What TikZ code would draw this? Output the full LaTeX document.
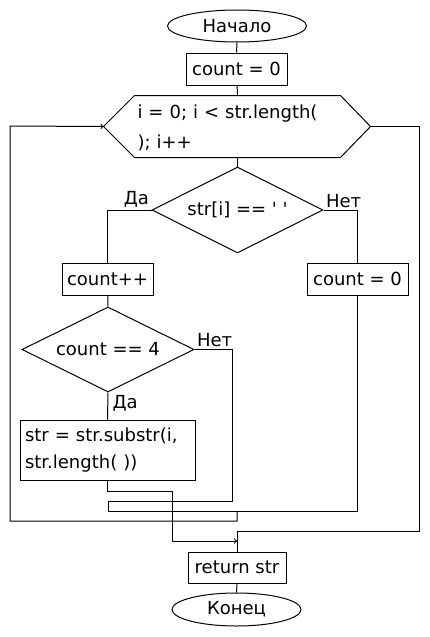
\documentclass[tikz,border=0pt]{standalone}
\usepackage{fontspec}
\setmainfont{DejaVu Sans}
\usepackage{tikz}
\usetikzlibrary{arrows,backgrounds,calc,positioning,shapes.geometric}

\tikzset{
  txt/.style={font=\fontsize{18}{22}\selectfont, inner sep=0pt},
  blok/.style={txt, draw, rectangle, minimum height=32pt},
  term/.style={txt, draw, ellipse, minimum height=32pt},
  uslovie/.style={txt, draw, diamond, aspect=2},
  metka/.style={txt, inner sep=2pt},
  liniya/.style={draw, line width=1pt}
}

\begin{document}
\begin{tikzpicture}[x=1pt, y=-1pt, line width=1pt, >=to]
\useasboundingbox[fill=white] (0,0) rectangle (429,637);

\node[term, minimum width=139pt] (nachalo) at (237,26) {Начало};
\node[blok, minimum width=101pt] (c0) at (236.5,69) {count = 0};
\node[txt, minimum width=205pt, minimum height=61pt, text width=200pt, align=left,
  font=\fontsize{18}{30}\selectfont] (cikl) at (237.5,128) {i = 0; i < str.length(\\); i++};
\coordinate (cl) at ([xshift=-31pt]cikl.west);
\coordinate (cr) at ([xshift=30pt]cikl.east);
\draw ([yshift=1.5pt]cikl.north west) -- ([yshift=1.5pt]cikl.north east) -- ([yshift=1.5pt]cr)
  -- ([yshift=1.5pt]cikl.south east) -- ([yshift=1.5pt]cikl.south west) -- ([yshift=1.5pt]cl) -- cycle;

\node[uslovie, minimum width=171pt, minimum height=86pt] (if1) at (237.5,210) {str[i] == \textquotesingle\ \textquotesingle};
\node[metka, anchor=south east] (da1) at (if1.west) {Да};
\node[metka, anchor=south west] (net1) at (if1.east) {Нет};
\node[blok, minimum width=91pt] (cpp) at (107.5,279) {count++};
\node[blok, minimum width=101pt] (c0b) at (357.5,279) {count = 0};

\node[uslovie, minimum width=172pt, minimum height=85pt] (if2) at (108,349.5) {count == 4};
\node[metka, anchor=south west] (net2) at (if2.east) {Нет};
\node[metka, anchor=north west, xshift=2pt] (da2) at (if2.south) {Да};
\node[blok, minimum width=175pt, minimum height=60pt, text width=165pt, align=left,
  font=\fontsize{18}{27}\selectfont] (sub) at (107.5,450) {str = str.substr(i,\\str.length( ))};

\node[blok, minimum width=98pt, minimum height=31pt] (ret) at (237,567.5) {return str};
\node[term, minimum width=129pt, minimum height=33pt] (konec) at (236.5,609.5) {Конец};

\coordinate (s1) at (108,511);
\coordinate (s2) at (237,511);
\coordinate (vyhod) at (237,541);

\draw (nachalo) -- (c0);
\draw (c0) -- ([yshift=1.5pt]cikl.north);
\draw ([yshift=1.5pt]cikl.south) -- (if1.north);
\draw (if1.west) -| (cpp.north);
\draw (if1.east) -| (c0b.north);
\draw (cpp) -- (if2.north);
\draw (if2.south) -- (sub.north);
\draw (if2.east) -| (232,501) -| (s1);
\draw (c0b.south) |- (s1);
\draw[->] (s2) -- (237,521) -| (10,126) -- ([yshift=1.5pt]cl);
\draw[->] (sub.south) -- ++(0,11) -| (172,541) -- (vyhod);
\draw ([yshift=1.5pt]cr) -| (419,531) -| (ret.north);
\draw (ret) -- (konec);
\end{tikzpicture}
\end{document}
